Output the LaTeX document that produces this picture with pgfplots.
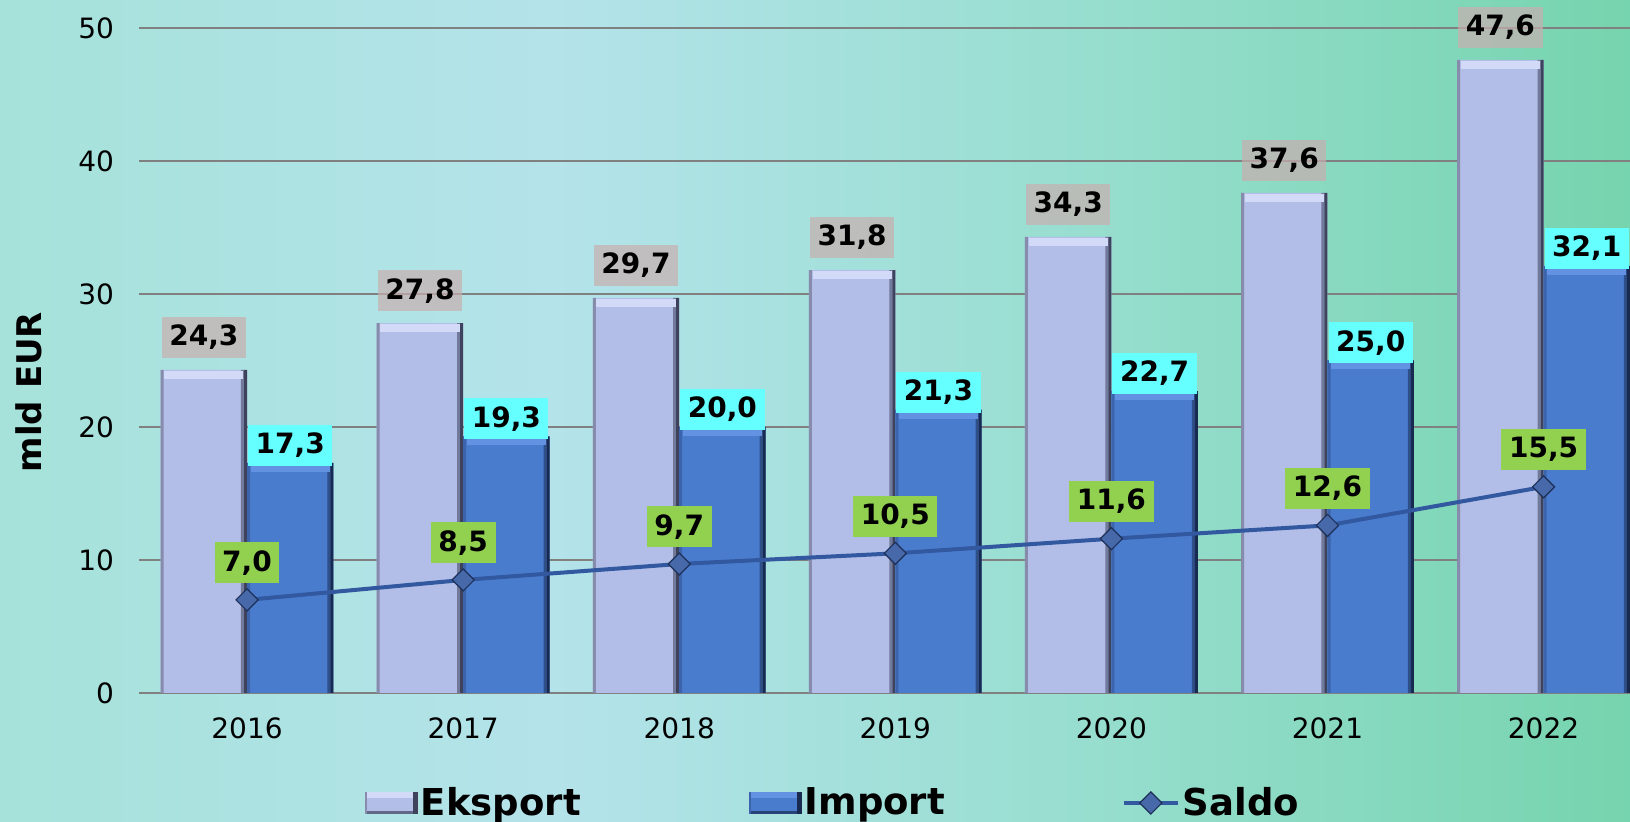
\documentclass[border=0pt]{standalone}
\usepackage{fontspec}
\setmainfont{DejaVu Sans}
\usepackage{pgfplots}
\usepackage{pgfplotstable}
\pgfplotsset{compat=1.18}

% background
\definecolor{bgA}{RGB}{166,226,218}
\definecolor{bgB}{RGB}{180,227,234}
\definecolor{bgC}{RGB}{152,222,208}
\definecolor{bgD}{RGB}{118,212,174}
\pgfdeclarehorizontalshading{bgshade}{100bp}{color(0bp)=(bgA); color(25bp)=(bgA); color(42bp)=(bgB); color(58bp)=(bgC); color(75bp)=(bgD); color(100bp)=(bgD)}

% bars
\definecolor{eksL}{RGB}{135,140,172}
\definecolor{eksF}{RGB}{178,190,232}
\definecolor{eksR}{RGB}{62,66,92}
\definecolor{eksH}{RGB}{210,218,248}
\definecolor{impL}{RGB}{60,100,172}
\definecolor{impF}{RGB}{74,124,206}
\definecolor{impR}{RGB}{25,42,80}
\definecolor{impH}{RGB}{100,146,226}

\definecolor{saldoline}{RGB}{50,88,160}
\definecolor{lblgray}{RGB}{200,175,175}
\definecolor{lblcyan}{RGB}{102,255,255}
\definecolor{lblgreen}{RGB}{146,208,80}
\definecolor{gridgray}{RGB}{128,128,128}

\newcommand{\lblnum}{\pgfmathprintnumber[use comma,fixed,fixed zerofill,precision=1]{\pgfplotspointmeta}}

\pgfplotstableread{
x eks imp saldo
0 24.3 17.3 7.0
1 27.8 19.3 8.5
2 29.7 20.0 9.7
3 31.8 21.3 10.5
4 34.3 22.7 11.6
5 37.6 25.0 12.6
6 47.6 32.1 15.5
}\data

\tikzset{lbl/.style={font=\fontsize{14pt}{16pt}\selectfont\bfseries, text=black,
        inner xsep=3.8pt, minimum height=20.5pt, anchor=south}}
\pgfplotsset{
    edge/.style={ybar, draw=none, bar width=0.014, forget plot},
    ekslegend/.style={legend image code/.code={
        \fill[eksF] (0pt,-5.5pt) rectangle (26.5pt,5.5pt);
        \fill[eksR] (24pt,-5.5pt) rectangle (26.5pt,5.5pt);
        \fill[eksL] (0pt,-5.5pt) rectangle (1.2pt,5.5pt);
        \fill[eksH] (1.2pt,2.5pt) rectangle (24pt,5.5pt);
        \fill[eksR!70!eksF] (1.2pt,-5.5pt) rectangle (24pt,-4pt);}},
    implegend/.style={legend image code/.code={
        \fill[impF] (0pt,-5.5pt) rectangle (26.5pt,5.5pt);
        \fill[impR] (24pt,-5.5pt) rectangle (26.5pt,5.5pt);
        \fill[impL] (0pt,-5.5pt) rectangle (1.2pt,5.5pt);
        \fill[impH] (1.2pt,2.5pt) rectangle (24pt,5.5pt);
        \fill[impR!70!impF] (1.2pt,-5.5pt) rectangle (24pt,-4pt);}},
    linelegend/.style={legend image code/.code={\draw[mark repeat=2,mark phase=2,##1] plot coordinates {(0pt,0pt) (13.5pt,0pt) (27pt,0pt)};}},
}

\begin{document}
\begin{tikzpicture}
\useasboundingbox (0,0) rectangle (815pt,411pt);
\clip (0,0) rectangle (815pt,411pt);
\fill[shading=bgshade] (0,0) rectangle (815pt,411pt);

\begin{axis}[
    at={(69.5pt,64.5pt)}, anchor=south west,
    scale only axis,
    width=745.5pt, height=332.5pt,
    xmin=-0.5, xmax=6.4,
    ymin=0, ymax=50,
    xtick={0,1,2,3,4,5,6},
    xticklabels={2016,2017,2018,2019,2020,2021,2022},
    ytick={0,10,20,30,40,50},
    ymajorgrids,
    grid style={draw=gridgray, line width=0.75pt},
    axis line style={draw=none},
    major tick length=0pt,
    clip=false,
    /pgf/number format/assume math mode=true,
    tick label style={font=\fontsize{14pt}{16pt}\selectfont, text=black},
    yticklabel style={xshift=-9pt},
    xticklabel style={yshift=-9pt},
    legend columns=3,
    legend style={at={(0.4658,-0.1654)}, anchor=center, draw=none, fill=none,
        font=\fontsize{18.5pt}{21pt}\selectfont\bfseries,
        nodes={inner sep=1.5pt},
        /tikz/column 2/.style={column sep=82.5pt},
        /tikz/column 4/.style={column sep=87pt}},
]

% Eksport
\addplot[ybar, bar width=0.4, bar shift=-0.2, draw=none, fill=eksF, ekslegend]
    table[x=x, y=eks] {\data};
\addplot[edge, bar shift=-0.393, fill=eksL] table[x=x, y=eks] {\data};
\addplot[edge, bar shift=-0.021, fill=eksR!55!eksF] table[x=x, y=eks] {\data};
\addplot[edge, bar shift=-0.007, fill=eksR] table[x=x, y=eks] {\data};
\addplot[only marks, mark=-, mark size=19.8pt, forget plot,
    mark options={draw=eksH, line width=4pt, xshift=-21.6pt, yshift=-2.5pt},
    nodes near coords=\lblnum,
    every node near coord/.append style={lbl, fill=lblgray, fill opacity=0.7, text opacity=1,
        yshift=6.5pt}]
    table[x=x, y=eks] {\data};

% Import
\addplot[ybar, bar width=0.4, bar shift=0.2, draw=none, fill=impF, implegend]
    table[x=x, y=imp] {\data};
\addplot[edge, bar shift=0.007, fill=impL] table[x=x, y=imp] {\data};
\addplot[edge, bar shift=0.379, fill=impR!55!impF] table[x=x, y=imp] {\data};
\addplot[edge, bar shift=0.393, fill=impR] table[x=x, y=imp] {\data};
\addplot[only marks, mark=-, mark size=19.8pt, forget plot,
    mark options={draw=impH, line width=4pt, xshift=21.6pt, yshift=-2.5pt},
    nodes near coords=\lblnum,
    every node near coord/.append style={lbl, fill=lblcyan, yshift=-1pt}]
    table[x=x, y=imp] {\data};

% Saldo
\addplot[draw=saldoline, line width=2pt, mark=square*,
    mark size=3.9pt,
    mark options={rotate=45, fill=saldoline!90!white, draw=saldoline!55!black, line width=0.6pt},
    nodes near coords=\lblnum,
    every node near coord/.append style={lbl, fill=lblgreen, yshift=8pt},
    linelegend]
    table[x=x, y=saldo] {\data};

\legend{Eksport, Import, Saldo}
\end{axis}

\node[rotate=90, font=\fontsize{17pt}{20pt}\selectfont\bfseries] at (14.25pt,215pt) {mld EUR};
\end{tikzpicture}
\end{document}
